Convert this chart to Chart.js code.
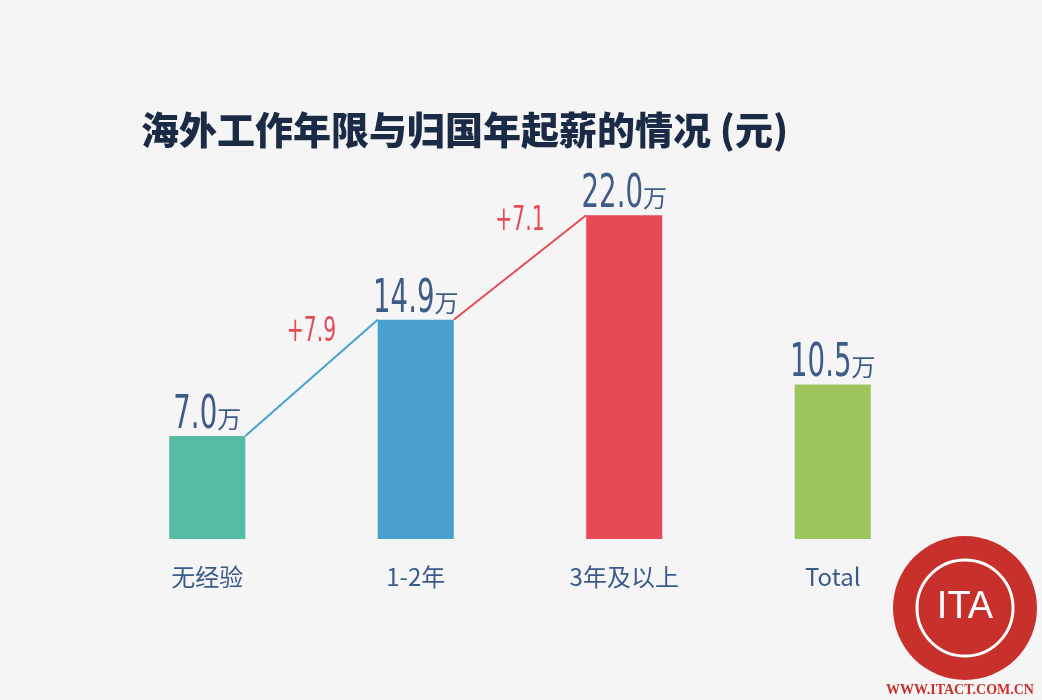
<!DOCTYPE html>
<html><head><meta charset="utf-8">
<script src="https://cdn.jsdelivr.net/npm/chart.js@4"></script>
<style>
html,body{margin:0;background:#f5f5f5;}
#wrap{position:relative;width:1042px;height:700px;}
</style></head>
<body><div id="wrap"><canvas id="c" width="1042" height="700"></canvas></div>
<script>
const categories = ["无经验", "1-2年", "3年及以上", "Total"];
const salaries = [7.0, 14.9, 22.0, 10.5];
const increments = ["+7.9", "+7.1"];
const barColors = ["#55bba3", "#47a0cf", "#e64b55", "#9ec55c"];
const lineColors = ["#47a0cf", "#e64b55"];

function narrowText(ctx, text, x, y, sx) {
  ctx.save();
  ctx.translate(x, y);
  ctx.scale(sx, 1);
  ctx.fillText(text, 0, 0);
  ctx.restore();
}

const decor = {
  id: "decor",
  afterDatasetsDraw(chart) {
    const ctx = chart.ctx;
    const meta = chart.getDatasetMeta(0);
    ctx.save();
    // title
    ctx.fillStyle = "#1c2b45";
    ctx.font = "900 38px 'Noto Sans CJK SC'";
    ctx.textBaseline = "middle";
    ctx.fillText("海外工作年限与归国年起薪的情况 (元)", 141, 130);
    // connecting lines + increments
    for (let i = 0; i < 2; i++) {
      const a = meta.data[i], b = meta.data[i + 1];
      const x1 = a.x + a.width / 2, x2 = b.x - b.width / 2;
      ctx.strokeStyle = lineColors[i];
      ctx.lineWidth = 2;
      ctx.beginPath(); ctx.moveTo(x1, a.y); ctx.lineTo(x2, b.y); ctx.stroke();
      ctx.fillStyle = "#e64b55";
      ctx.font = "34px 'DejaVu Sans'";
      ctx.textAlign = "left";
      const w = ctx.measureText(increments[i]).width * 0.6;
      narrowText(ctx, increments[i], (x1 + x2) / 2 - w / 2, (a.y + b.y) / 2 - 46, 0.6);
    }
    // value labels and categories
    meta.data.forEach((bar, i) => {
      const num = salaries[i].toFixed(1);
      ctx.textAlign = "left";
      ctx.textBaseline = "alphabetic";
      ctx.font = "46px 'DejaVu Sans'";
      const w1 = ctx.measureText(num).width * 0.6;
      ctx.font = "24px 'Noto Sans CJK SC'";
      const w2 = ctx.measureText("万").width;
      const x = bar.x - (w1 + w2) / 2;
      ctx.fillStyle = "#3e5c86";
      ctx.font = "46px 'DejaVu Sans'";
      narrowText(ctx, num, x, bar.y - 8, 0.6);
      ctx.font = "24px 'Noto Sans CJK SC'";
      ctx.fillText("万", x + w1, bar.y - 8);
      ctx.textAlign = "center";
      ctx.textBaseline = "middle";
      ctx.font = "24px 'Noto Sans CJK SC'";
      ctx.fillStyle = "#3a5a8a";
      ctx.fillText(categories[i], bar.x, 577);
    });
    // watermark
    ctx.beginPath(); ctx.arc(965, 608, 72, 0, Math.PI * 2);
    ctx.fillStyle = "#c8302c"; ctx.fill();
    ctx.beginPath(); ctx.arc(965, 608, 48, 0, Math.PI * 2);
    ctx.strokeStyle = "#fff"; ctx.lineWidth = 3; ctx.stroke();
    ctx.fillStyle = "#fff"; ctx.font = "38px 'Liberation Sans'";
    ctx.fillText("ITA", 965, 608);
    ctx.fillStyle = "#c8302c"; ctx.font = "bold 14px 'Liberation Serif'";
    ctx.fillText("WWW.ITACT.COM.CN", 960, 690);
    ctx.restore();
  }
};

new Chart(document.getElementById("c"), {
  type: "bar",
  data: { labels: categories, datasets: [{ data: salaries, backgroundColor: barColors,
    barPercentage: 0.73, categoryPercentage: 0.5 }] },
  options: {
    responsive: false, animation: false,
    layout: { padding: { left: 103, right: 105, top: 171, bottom: 161 } },
    plugins: { legend: { display: false }, tooltip: { enabled: false } },
    scales: {
      x: { display: false },
      y: { display: false, min: 0, max: 25 }
    }
  },
  plugins: [decor]
});
</script></body></html>
